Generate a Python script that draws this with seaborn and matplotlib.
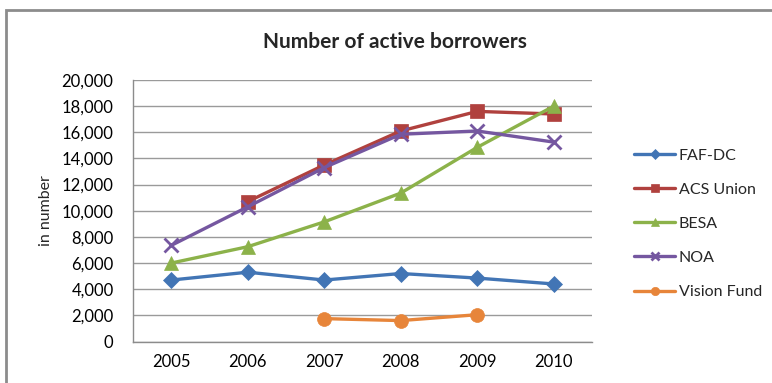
import numpy as np
import pandas as pd
import seaborn as sns
import matplotlib.pyplot as plt
from matplotlib.patches import Rectangle

years = [2005, 2006, 2007, 2008, 2009, 2010]
faf_dc = [4700, 5300, 4700, 5200, 4850, 4400]
acs_union = [np.nan, 10700, 13500, 16100, 17600, 17400]
besa = [6000, 7250, 9150, 11350, 14850, 18000]
noa = [7350, 10300, 13300, 15850, 16100, 15250]
vision_fund = [np.nan, np.nan, 1750, 1600, 2050, np.nan]

series_names = ['FAF-DC', 'ACS Union', 'BESA', 'NOA', 'Vision Fund']
colors = ['#4275B5', '#B0413E', '#8CB24A', '#7557A0', '#E7853A']
markers = ['D', 's', '^', 'x', 'o']
sizes = [8, 10, 10, 10, 10]

df = pd.DataFrame({'year': years, 'FAF-DC': faf_dc, 'ACS Union': acs_union,
                   'BESA': besa, 'NOA': noa, 'Vision Fund': vision_fund})
long = df.melt(id_vars='year', var_name='series', value_name='value').dropna()

sns.set_style('white')
plt.rcParams['font.family'] = ['Lato', 'DejaVu Sans']

fig = plt.figure(figsize=(7.72, 3.83), dpi=100)
ax = fig.add_axes([133 / 772, 1 - 341.5 / 383, (592 - 133) / 772, (341.5 - 80) / 383])

for name, c, m, s in zip(series_names, colors, markers, sizes):
    sub = long[long['series'] == name]
    sns.lineplot(data=sub, x='year', y='value', ax=ax, color=c, marker=m,
                 markersize=s, markeredgecolor=c, markeredgewidth=2 if m == 'x' else 0.5,
                 linewidth=2.4, label=name, sort=False)

ax.set_xlim(2004.5, 2010.5)
ax.set_ylim(0, 20000)
ax.set_xticks(years)
ax.set_yticks(range(0, 20001, 2000))
ax.set_yticklabels([f'{v:,}' for v in range(0, 20001, 2000)])
ax.grid(axis='y', color='#9a9a9a', linewidth=1)
ax.set_axisbelow(True)
for side in ['top', 'right']:
    ax.spines[side].set_visible(False)
for side in ['left', 'bottom']:
    ax.spines[side].set_color('#8c8c8c')
    ax.spines[side].set_linewidth(1)
ax.tick_params(axis='both', labelsize=12, colors='black', length=0, pad=9)
ax.tick_params(axis='y', pad=14)
ax.set_xlabel('')
ax.set_ylabel('in number', fontsize=11.5, labelpad=6)

ax.legend(loc='center left', bbox_to_anchor=(1.06, 0.45), frameon=False,
          fontsize=11.5, handlelength=2.6, handletextpad=0.2, labelspacing=1.25,
          markerscale=0.6)

fig.text(395 / 772, 1 - 42 / 383, 'Number of active borrowers', ha='center', va='center',
         fontsize=15, fontweight='bold')
fig.patches.append(Rectangle((6 / 772, -0.05), 1.1, 1 - 10 / 383 + 0.05, transform=fig.transFigure,
                             fill=False, edgecolor='#8c8c8c', linewidth=2))

fig.savefig('out.png', dpi=100)
